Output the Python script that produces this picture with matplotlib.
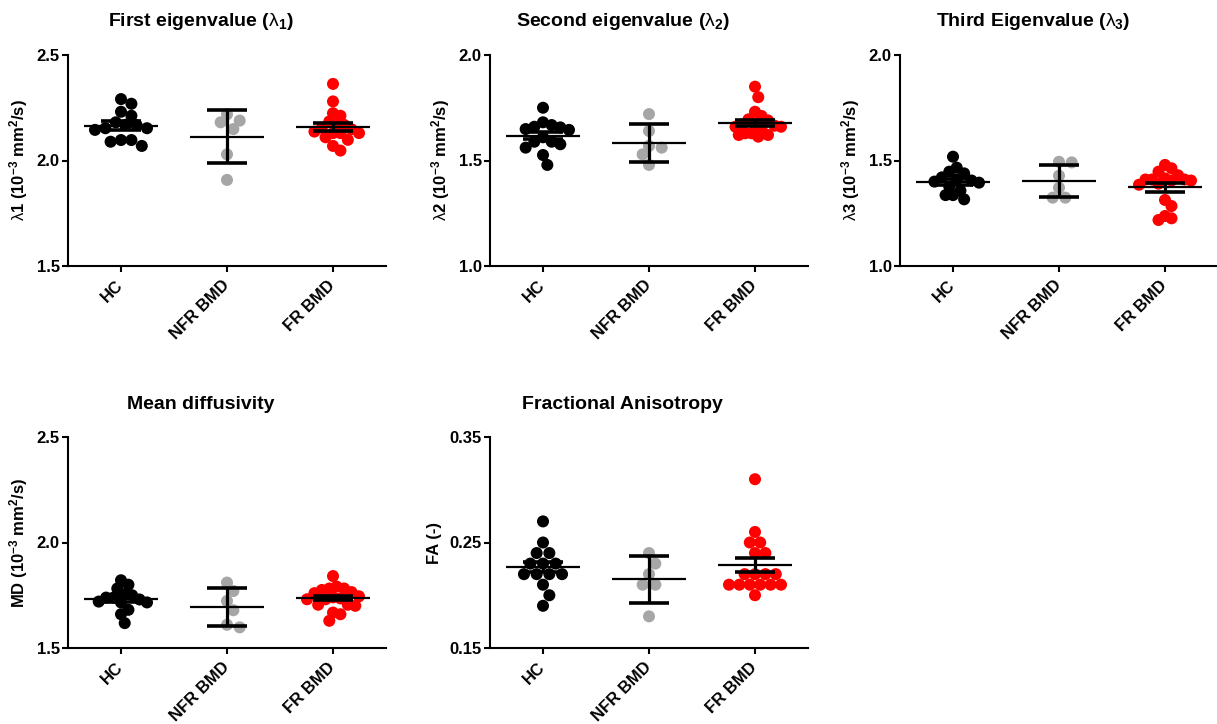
import numpy as np
import matplotlib
matplotlib.use("Agg")
import matplotlib.pyplot as plt

plt.rcParams['font.family'] = ['Liberation Sans', 'DejaVu Sans']
plt.rcParams['mathtext.fontset'] = 'custom'
plt.rcParams['mathtext.rm'] = 'Liberation Sans:bold'
plt.rcParams['mathtext.it'] = 'Liberation Sans'
plt.rcParams['mathtext.bf'] = 'Liberation Sans:bold'

groups = ["HC", "NFR BMD", "FR BMD"]
colors = ["#000000", "#a6a6a6", "#ff0000"]

# first eigenvalue
l1_hc = [2.291, 2.269, 2.231, 2.212, 2.181, 2.168, 2.153, 2.145, 2.153, 2.097, 2.089, 2.097, 2.069, 2.170]
l1_nfr = [2.219, 2.189, 2.181, 2.149, 2.029, 1.908]
l1_fr = [2.363, 2.280, 2.224, 2.212, 2.185, 2.169, 2.169, 2.148, 2.130, 2.137, 2.130, 2.130, 2.098, 2.110, 2.069, 2.047, 2.155]
l1_mean = [2.165, 2.113, 2.161]
l1_err = [0.020, 0.126, 0.019]

# second eigenvalue
l2_hc = [1.750, 1.668, 1.681, 1.660, 1.649, 1.657, 1.645, 1.589, 1.577, 1.589, 1.561, 1.526, 1.479, 1.610]
l2_nfr = [1.720, 1.640, 1.569, 1.561, 1.529, 1.479]
l2_fr = [1.850, 1.800, 1.731, 1.711, 1.695, 1.690, 1.675, 1.665, 1.660, 1.660, 1.655, 1.629, 1.621, 1.613, 1.621, 1.629, 1.670]
l2_mean = [1.618, 1.581, 1.679]
l2_err = [0.016, 0.090, 0.015]

# third eigenvalue
l3_hc = [1.518, 1.466, 1.447, 1.439, 1.420, 1.376, 1.336, 1.316, 1.336, 1.357, 1.400, 1.405, 1.395, 1.410]
l3_nfr = [1.491, 1.494, 1.428, 1.371, 1.324, 1.324]
l3_fr = [1.479, 1.463, 1.447, 1.430, 1.410, 1.415, 1.405, 1.405, 1.410, 1.410, 1.390, 1.385, 1.313, 1.284, 1.237, 1.218, 1.226]
l3_mean = [1.398, 1.404, 1.373]
l3_err = [0.012, 0.077, 0.022]

# mean diffusivity
md_hc = [1.821, 1.800, 1.782, 1.739, 1.739, 1.750, 1.755, 1.681, 1.660, 1.618, 1.716, 1.720, 1.716, 1.730]
md_nfr = [1.810, 1.770, 1.723, 1.679, 1.598, 1.610]
md_fr = [1.841, 1.782, 1.775, 1.782, 1.791, 1.731, 1.760, 1.765, 1.731, 1.705, 1.700, 1.705, 1.668, 1.660, 1.629, 1.740, 1.745, 1.735]
md_mean = [1.731, 1.695, 1.736]
md_err = [0.014, 0.089, 0.010]

# fractional anisotropy
fa_hc = [0.27, 0.25, 0.24, 0.24, 0.23, 0.23, 0.23, 0.22, 0.22, 0.22, 0.22, 0.21, 0.20, 0.19]
fa_nfr = [0.24, 0.23, 0.22, 0.21, 0.21, 0.18]
fa_fr = [0.31, 0.26, 0.25, 0.25, 0.24, 0.24, 0.22, 0.22, 0.22, 0.22, 0.21, 0.21, 0.21, 0.21, 0.21, 0.21, 0.20]
fa_mean = [0.2267, 0.215, 0.2286]
fa_err = [0.005, 0.022, 0.0066]

panels = [
    (r"First eigenvalue ($\lambda_1$)", r"$\lambda$1 (10$^{-3}$ mm$^{2}$/s)",
     [l1_hc, l1_nfr, l1_fr], l1_mean, l1_err, [1.5, 2.0, 2.5], ["1.5", "2.0", "2.5"]),
    (r"Second eigenvalue ($\lambda_2$)", r"$\lambda$2 (10$^{-3}$ mm$^{2}$/s)",
     [l2_hc, l2_nfr, l2_fr], l2_mean, l2_err, [1.0, 1.5, 2.0], ["1.0", "1.5", "2.0"]),
    (r"Third Eigenvalue ($\lambda_3$)", r"$\lambda$3 (10$^{-3}$ mm$^{2}$/s)",
     [l3_hc, l3_nfr, l3_fr], l3_mean, l3_err, [1.0, 1.5, 2.0], ["1.0", "1.5", "2.0"]),
    ("Mean diffusivity", r"MD (10$^{-3}$ mm$^{2}$/s)",
     [md_hc, md_nfr, md_fr], md_mean, md_err, [1.5, 2.0, 2.5], ["1.5", "2.0", "2.5"]),
    ("Fractional Anisotropy", "FA (-)",
     [fa_hc, fa_nfr, fa_fr], fa_mean, fa_err, [0.15, 0.25, 0.35], ["0.15", "0.25", "0.35"]),
]

W, H = 1217, 724
corners = [(68, 55), (490, 55), (900, 55), (68, 437), (490, 437)]
aw, ah = 318, 211
dot_px = 12.7
max_spread = 26  # px, columns get squeezed to this half width


def swarm(ax, values, center):
    # beeswarm in pixel space (dots may touch a bit), then squeezed into the column
    pts = ax.transData.transform([(center, v) for v in values])
    ys = pts[:, 1]
    ppu = ax.transData.transform((1, 0))[0] - ax.transData.transform((0, 0))[0]
    offs = np.zeros(len(values))
    placed = []
    cands = [0.0]
    for k in range(1, 16):
        cands += [k * dot_px / 2, -k * dot_px / 2]
    for i in np.argsort(-ys, kind="stable"):
        for c in cands:
            ok = True
            for px, py in placed:
                need = 0.9 if abs(c - px) < 1 else 0.8
                if (c - px) ** 2 + (ys[i] - py) ** 2 < (dot_px * need) ** 2:
                    ok = False
                    break
            if ok:
                break
        placed.append((c, ys[i]))
        offs[i] = c
    m = np.abs(offs).max()
    if m > max_spread:
        offs = offs * max_spread / m
    return center + offs / ppu


fig = plt.figure(figsize=(W / 100, H / 100), dpi=100)

for (title, ylab, data, means, errs, yt, ytl), (lx, ty) in zip(panels, corners):
    ax = fig.add_axes([lx / W, 1 - (ty + ah) / H, aw / W, ah / H])
    ax.set_xlim(-0.5, 2.5)
    ax.set_ylim(yt[0], yt[-1])
    for sp in ["top", "right"]:
        ax.spines[sp].set_visible(False)
    for sp in ["left", "bottom"]:
        ax.spines[sp].set_linewidth(1.5)

    for i, vals in enumerate(data):
        xs = swarm(ax, vals, i)
        ax.scatter(xs, vals, s=75, color=colors[i], edgecolors="none", zorder=2, clip_on=False)
        ax.hlines(means[i], i - 0.345, i + 0.345, color="black", lw=1.6, zorder=3)
        ax.vlines(i, means[i] - errs[i], means[i] + errs[i], color="black", lw=2.3, zorder=3)
        ax.hlines([means[i] - errs[i], means[i] + errs[i]], i - 0.185, i + 0.185,
                  color="black", lw=2.6, zorder=3)

    ax.set_yticks(yt)
    ax.set_yticklabels(ytl, fontweight="bold", fontsize=12)
    ax.set_xticks(range(len(groups)))
    ax.set_xticklabels(groups, fontweight="bold", fontsize=12, rotation=45,
                       ha="right", va="center", rotation_mode="anchor")
    ax.tick_params(axis="both", direction="out", length=4, width=1.5, color="black")
    ax.tick_params(axis="x", pad=8)
    ax.tick_params(axis="y", pad=2)
    ax.set_ylabel(ylab, fontweight="bold", fontsize=12, labelpad=5)
    ax.text(0.418, 1 + 33 / ah, title, transform=ax.transAxes, ha="center", va="center",
            fontweight="bold", fontsize=14)

fig.savefig("out.png", dpi=100)
